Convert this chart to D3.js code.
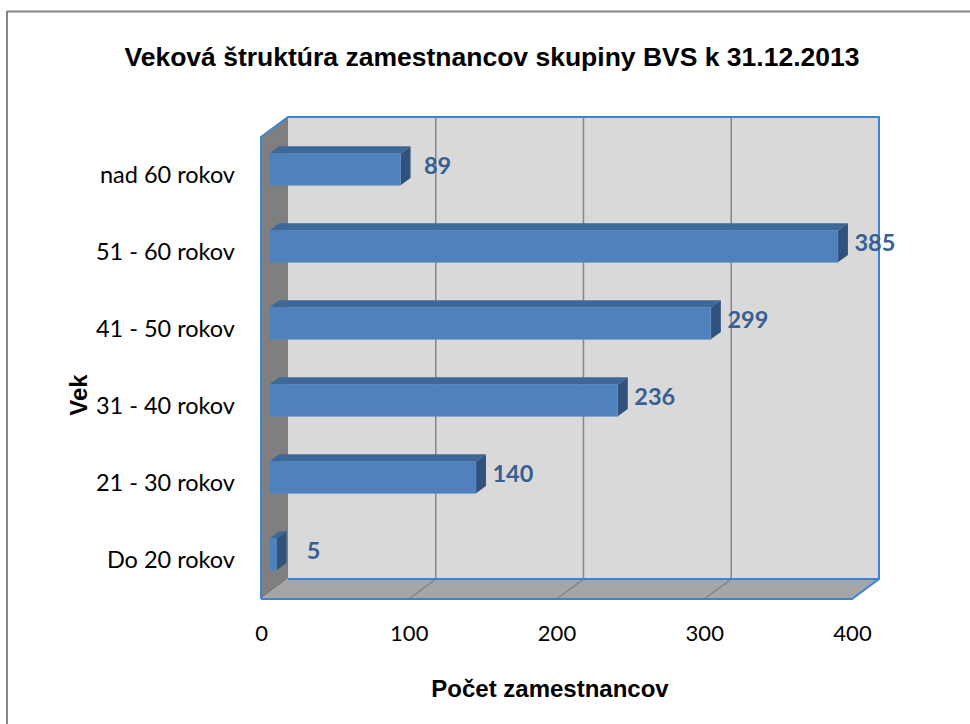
<!doctype html>
<html>
<head>
<meta charset="utf-8"/>
<title>Veková štruktúra zamestnancov</title>
<script src="https://d3js.org/d3.v7.min.js"></script>
<style>
  body { margin: 0; background: #fff; }
</style>
</head>
<body>
<div id="graf"></div>
<script>
  // data
  var kategorie = ["Do 20 rokov", "21 - 30 rokov", "31 - 40 rokov", "41 - 50 rokov", "51 - 60 rokov", "nad 60 rokov"];
  var pocty = [5, 140, 236, 299, 385, 89];
  var osX = [0, 100, 200, 300, 400];

  var sirka = 970, vyska = 724;
  var svg = d3.select("#graf").append("svg")
      .attr("width", sirka)
      .attr("height", vyska);

  // ramcek grafu
  svg.append("path")
      .attr("d", "M7,724 L7,11.5 L970,11.5")
      .attr("fill", "none")
      .attr("stroke", "#868686")
      .attr("stroke-width", 2);

  // 3D hlbka
  var hx = 27, hy = -20;
  var x = d3.scaleLinear().domain([0, 400]).range([261, 852]);
  var y = d3.scaleBand().domain(kategorie.slice().reverse()).range([137, 599]);
  var x0 = x(0), x1 = x(400), y0 = y.range()[0], y1 = y.range()[1];

  function bod(px, py, z) { return [px + hx * z, py + hy * z]; }
  function poly(body, fill) {
    svg.append("polygon")
      .attr("points", body.map(function(b) { return b.join(","); }).join(" "))
      .attr("fill", fill);
  }

  // zadna stena, bocna stena, podlaha
  poly([bod(x0, y0, 1), bod(x1, y0, 1), bod(x1, y1, 1), bod(x0, y1, 1)], "#d9d9d9");
  poly([bod(x0, y0, 0), bod(x0, y0, 1), bod(x0, y1, 1), bod(x0, y1, 0)], "#7f7f7f");
  poly([bod(x0, y1, 0), bod(x0, y1, 1), bod(x1, y1, 1), bod(x1, y1, 0)], "#a6a6a6");

  // mriezka
  osX.slice(1, 4).forEach(function(v) {
    var a = bod(x(v), y0, 1), b = bod(x(v), y1, 1), c = bod(x(v), y1, 0);
    svg.append("polyline")
      .attr("points", [a, b, c].map(function(p) { return p.join(","); }).join(" "))
      .attr("fill", "none")
      .attr("stroke", "#868686")
      .attr("stroke-width", 1.5);
  });

  // modre hrany
  var hrany = [
    [bod(x0, y1, 0), bod(x0, y0, 0), bod(x0, y0, 1), bod(x1, y0, 1), bod(x1, y1, 1), bod(x1, y1, 0), bod(x0, y1, 0)],
    [bod(x0, y1, 1), bod(x1, y1, 1)]
  ];
  hrany.forEach(function(h) {
    svg.append("polyline")
      .attr("points", h.map(function(p) { return p.join(","); }).join(" "))
      .attr("fill", "none")
      .attr("stroke", "#3a85d0")
      .attr("stroke-width", 2)
      .attr("stroke-linejoin", "miter");
  });

  // stlpce
  var z1 = 0.3, z2 = 0.67, vysBar = y.bandwidth() * 0.41;
  kategorie.forEach(function(k, i) {
    var v = pocty[i];
    var yt = y(k) + y.bandwidth() / 2 - vysBar / 2, yb = yt + vysBar;
    var xa = x(0), xb = x(v);
    // vrch
    poly([bod(xa, yt, z1), bod(xa, yt, z2), bod(xb, yt, z2), bod(xb, yt, z1)], "#3d6898");
    // bok
    poly([bod(xb, yt, z1), bod(xb, yt, z2), bod(xb, yb, z2), bod(xb, yb, z1)], "#31527d");
    // predok
    var p = bod(xa, yt, z1), q = bod(xb, yb, z1);
    svg.append("rect")
      .attr("x", p[0]).attr("y", p[1])
      .attr("width", q[0] - p[0]).attr("height", q[1] - p[1])
      .attr("fill", "#4f81bd")
      .attr("stroke", "#5b8cc6")
      .attr("stroke-width", 0.5);
    // hodnota
    var t = bod(xb, (yt + yb) / 2, z2);
    svg.append("text")
      .attr("x", t[0] + 27)
      .attr("y", (yt + yb) / 2 + hy * z1 - 4)
      .attr("dy", "0.35em")
      .attr("text-anchor", "middle")
      .attr("font-family", "Lato")
      .attr("font-weight", "bold")
      .attr("font-size", "23.5px")
      .attr("fill", "#376092")
      .text(v);
  });

  // os X
  var osXg = svg.append("g")
      .attr("transform", "translate(0," + 625 + ")")
      .call(d3.axisBottom(x).tickValues(osX).tickSize(0).tickPadding(0));
  osXg.select(".domain").remove();
  osXg.selectAll("text")
      .attr("font-family", "Lato")
      .attr("font-size", "22px")
      .attr("fill", "#000");

  // os Y
  var osYg = svg.append("g")
      .attr("transform", "translate(" + 235 + ",0)")
      .call(d3.axisLeft(y).tickSize(0).tickPadding(0));
  osYg.select(".domain").remove();
  osYg.selectAll("text")
      .attr("font-family", "Lato")
      .attr("font-size", "23.5px")
      .attr("fill", "#000");

  // nadpisy
  svg.append("text")
      .attr("x", 492).attr("y", 66)
      .attr("text-anchor", "middle")
      .attr("font-family", "Liberation Sans, Arial")
      .attr("font-weight", "bold")
      .attr("font-size", "26.5px")
      .text("Veková štruktúra zamestnancov skupiny BVS k 31.12.2013");

  svg.append("text")
      .attr("x", 550).attr("y", 697)
      .attr("text-anchor", "middle")
      .attr("font-family", "Liberation Sans, Arial")
      .attr("font-weight", "bold")
      .attr("font-size", "24px")
      .text("Počet zamestnancov");

  svg.append("text")
      .attr("transform", "translate(87,395) rotate(-90)")
      .attr("text-anchor", "middle")
      .attr("font-family", "Liberation Sans, Arial")
      .attr("font-weight", "bold")
      .attr("font-size", "24px")
      .text("Vek");
</script>
</body>
</html>
